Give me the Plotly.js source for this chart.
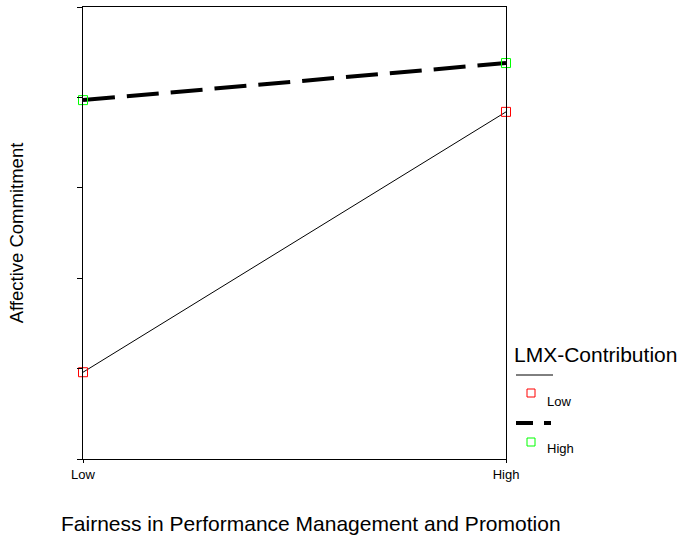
<!DOCTYPE html>
<html>
<head>
<meta charset="utf-8">
<script src="https://cdn.plot.ly/plotly-3.0.1.min.js"></script>
<style>html,body{margin:0;padding:0;background:#fff;}#chart{width:682px;height:540px;}</style>
</head>
<body>
<div id="chart"></div>
<script>
// Data
const categories = ["Low", "High"];
const xPositions = [0, 1];
const lowLMX = [0.96, 3.84];   // LMX-Contribution: Low
const highLMX = [3.97, 4.38];  // LMX-Contribution: High
const yTicks = [0, 1, 2, 3, 4, 5];
const seriesNames = ["Low", "High"];
const xTitle = "Fairness in Performance Management and Promotion";
const yTitle = "Affective Commitment";
const legendTitle = "LMX-Contribution";

const traceLow = {
  x: xPositions, y: lowLMX, name: seriesNames[0], type: "scatter", mode: "lines+markers",
  line: {color: "#000000", width: 1},
  marker: {symbol: "square-open", size: 9, color: "#ff0000", line: {width: 1, color: "#ff0000"}},
  cliponaxis: false, showlegend: false
};
const traceHigh = {
  x: xPositions, y: highLMX, name: seriesNames[1], type: "scatter", mode: "lines+markers",
  line: {color: "#000000", width: 4, dash: "32px,12px"},
  marker: {symbol: "square-open", size: 9, color: "#00ff00", line: {width: 1, color: "#00ff00"}},
  cliponaxis: false, showlegend: false
};

// plot area in pixels: x 83..506, y 7..459
const L = 83, R = 506, T = 7, B = 459;
const px = v => (v - L) / (R - L);
const py = v => (B - v) / (B - T);

const font = "Liberation Sans, Arial, sans-serif";

const layout = {
  width: 682, height: 540,
  margin: {l: L, r: 682 - R, t: T, b: 540 - B},
  paper_bgcolor: "#ffffff", plot_bgcolor: "#ffffff",
  font: {family: font, color: "#000000"},
  showlegend: false,
  xaxis: {
    range: [0, 1], tickvals: xPositions, ticktext: categories,
    showgrid: false, zeroline: false, showline: true, mirror: true,
    linecolor: "#000000", linewidth: 1, ticks: "outside", ticklen: 3, tickcolor: "#000000",
    tickfont: {size: 13, family: font}
  },
  yaxis: {
    range: [0, 5], tickvals: yTicks, showticklabels: false,
    showgrid: false, zeroline: false, showline: true, mirror: true,
    linecolor: "#000000", linewidth: 1, ticks: "outside", ticklen: 5, tickcolor: "#000000",
    title: {text: yTitle, font: {size: 18.5, family: font}, standoff: 48}
  },
  shapes: [
    {type: "line", xref: "paper", yref: "paper", x0: px(516), x1: px(553), y0: py(375), y1: py(375),
     line: {color: "#000000", width: 1}},
    {type: "rect", xref: "paper", yref: "paper", x0: px(527), x1: px(535), y0: py(389), y1: py(397),
     line: {color: "#ff0000", width: 1}},
    {type: "line", xref: "paper", yref: "paper", x0: px(516), x1: px(551), y0: py(423), y1: py(423),
     line: {color: "#000000", width: 4, dash: "17px,11px"}},
    {type: "rect", xref: "paper", yref: "paper", x0: px(527), x1: px(535), y0: py(438), y1: py(446),
     line: {color: "#00ff00", width: 1}}
  ],
  annotations: [
    {text: xTitle, xref: "paper", yref: "paper", x: px(310.5), y: py(523),
     xanchor: "center", yanchor: "middle", showarrow: false, font: {size: 21, family: font}},
    {text: legendTitle, xref: "paper", yref: "paper", x: px(512), y: py(354),
     xanchor: "left", yanchor: "middle", showarrow: false, font: {size: 21, family: font}},
    {text: seriesNames[0], xref: "paper", yref: "paper", x: px(545), y: py(401),
     xanchor: "left", yanchor: "middle", showarrow: false, font: {size: 13, family: font}},
    {text: seriesNames[1], xref: "paper", yref: "paper", x: px(545), y: py(448),
     xanchor: "left", yanchor: "middle", showarrow: false, font: {size: 13, family: font}}
  ]
};

Plotly.newPlot("chart", [traceLow, traceHigh], layout, {displayModeBar: false, staticPlot: true});
</script>
</body>
</html>
